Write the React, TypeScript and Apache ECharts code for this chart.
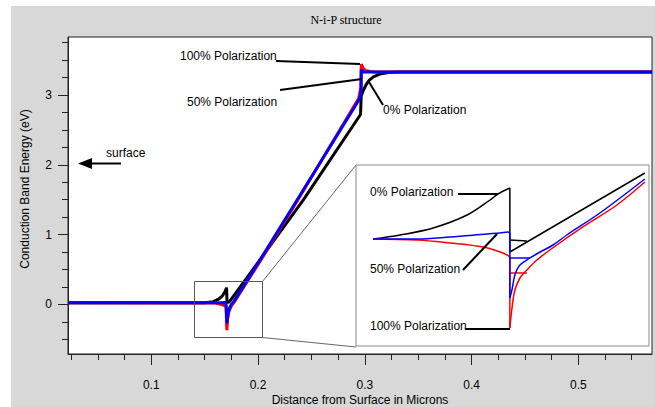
import React, { useEffect, useRef } from "react";
import * as echarts from "echarts";

// ---------- axis ticks ----------
const xMajorTicks = [0.1, 0.2, 0.3, 0.4, 0.5];
const xMinorTicks = [0.025, 0.05, 0.075, 0.125, 0.15, 0.175, 0.225, 0.25, 0.275, 0.325, 0.35, 0.375, 0.425, 0.45, 0.475, 0.525, 0.55];
const yMajorTicks = [0, 1, 2, 3];
const yMinorTicks = [-0.5, -0.25, 0.25, 0.5, 0.75, 1.25, 1.5, 1.75, 2.25, 2.5, 2.75, 3.25, 3.5, 3.75];
const xRange = [0.022, 0.569];
const yRange = [-0.71, 3.83];

// ---------- main curves: [distance (µm), conduction band energy (eV)] ----------
const pol0 = [
  [0.022, 0.024], [0.15, 0.024], [0.158, 0.04], [0.163, 0.075], [0.1665, 0.12], [0.169, 0.18],
  [0.1705, 0.24], [0.171, 0.03], [0.1731, 0.035], [0.2426, 1.5], [0.296, 2.72], [0.2966, 2.98],
  [0.2985, 3.06], [0.301, 3.14], [0.304, 3.21], [0.308, 3.26], [0.314, 3.3], [0.322, 3.32],
  [0.332, 3.33], [0.569, 3.33],
];
const pol50 = [
  [0.022, 0.024], [0.165, 0.024], [0.17, 0.026], [0.1706, 0.024], [0.1708, -0.27], [0.1716, -0.15],
  [0.173, -0.06], [0.175, 0.0], [0.1769, 0.033], [0.202, 0.64], [0.2367, 1.5], [0.2942, 2.92],
  [0.296, 3.0], [0.2966, 3.1], [0.2967, 3.36], [0.2985, 3.33], [0.569, 3.33],
];
const pol100 = [
  [0.022, 0.024], [0.16, 0.02], [0.166, 0.0], [0.17, -0.03], [0.1708, -0.37], [0.1714, -0.22],
  [0.1728, -0.1], [0.175, -0.02], [0.1775, 0.03], [0.202, 0.62], [0.2367, 1.48], [0.2942, 2.95],
  [0.2962, 3.1], [0.2967, 3.44], [0.2985, 3.38], [0.3005, 3.35], [0.305, 3.335], [0.31, 3.33],
  [0.569, 3.33],
];

// ---------- inset (magnified region) ----------
const insetXRange = [0.1403, 0.2041];
const insetYRange = [-0.484, 0.33];
// black: smooth rise to the peak, vertical drop, straight climb
const inset0 = [
  [0.144, -0.0028], [0.1499, 0.0152], [0.1571, 0.0467], [0.1645, 0.1051], [0.1695, 0.1726],
  [0.1712, 0.1996], [0.1738, 0.2266], [0.1738, -0.0613], [0.2032, 0.294],
];
const inset0Step = [[0.1738, -0.0073], [0.1775, -0.0118]];
const inset50 = [
  [0.144, -0.0028], [0.1536, -0.0028], [0.1608, 0.0062], [0.1688, 0.0197], [0.1717, 0.0242],
  [0.1734, 0.0287], [0.1738, 0.0242], [0.1738, -0.2681], [0.1743, -0.2277], [0.1749, -0.1647],
  [0.176, -0.1197], [0.1782, -0.0882], [0.1804, -0.0613], [0.1832, -0.0298], [0.1862, 0.0152],
  [0.1934, 0.1141], [0.2032, 0.267],
];
const inset50Step = [[0.1738, -0.0882], [0.1782, -0.0882]];
const inset100 = [
  [0.144, -0.0028], [0.1536, -0.0073], [0.1608, -0.0208], [0.168, -0.0388], [0.1717, -0.0613],
  [0.1732, -0.0747], [0.1738, -0.0837], [0.1738, -0.403], [0.1743, -0.3086], [0.1749, -0.2322],
  [0.176, -0.1782], [0.1775, -0.1422], [0.1797, -0.0972], [0.1825, -0.0523], [0.1897, 0.0512],
  [0.1971, 0.1501], [0.2032, 0.2535],
];
const inset100Step = [[0.1738, -0.1557], [0.1775, -0.1557]];

const SANS = "'Liberation Sans', Arial, sans-serif";
const SERIF = "'Liberation Serif', 'Times New Roman', serif";

function txt(text: string, x: number, y: number, opts: any = {}) {
  return {
    type: "text",
    x,
    y,
    z: 100,
    rotation: opts.rotation || 0,
    style: {
      text,
      fill: "#000",
      font: opts.font || `12px ${SANS}`,
      align: opts.align || "left",
      textAlign: opts.align || "left",
      verticalAlign: "middle",
      textVerticalAlign: "middle",
    },
  };
}
function seg(x1: number, y1: number, x2: number, y2: number, stroke = "#000", lineWidth = 2) {
  return { type: "line", z: 100, shape: { x1, y1, x2, y2 }, style: { stroke, lineWidth } };
}

export default function App() {
  const ref = useRef<HTMLDivElement>(null);
  useEffect(() => {
    if (!ref.current) return;
    const chart = echarts.init(ref.current, undefined, { renderer: "svg" });
    const line = (data: number[][], color: string, width: number, ax: number, name: string, smooth: any = false) => ({
      type: "line",
      name,
      data,
      xAxisIndex: ax,
      yAxisIndex: ax,
      showSymbol: false,
      symbol: "none",
      smooth,
      lineStyle: { color, width },
      itemStyle: { color },
      silent: true,
      z: ax === 2 ? 10 : 2,
    });
    const S = 0.35;
    chart.setOption({
      animation: false,
      backgroundColor: "#d8d8d8",
      grid: [
        { left: 68, top: 37, width: 584, height: 317, show: true, backgroundColor: "#fff", borderColor: "#222", borderWidth: 1 },
        { left: 356, top: 165, width: 293, height: 181, show: true, backgroundColor: "#fff", borderColor: "#8a8a8a", borderWidth: 1, z: 5 },
      ],
      xAxis: [
        {
          gridIndex: 0, type: "value", position: "bottom", min: xRange[0], max: xRange[1],
          axisLine: { show: true, onZero: false, lineStyle: { color: "#222" } },
          axisTick: { show: true, customValues: xMajorTicks, length: 11, lineStyle: { color: "#222" } },
          axisLabel: { show: true, customValues: xMajorTicks, margin: 25, fontSize: 12, color: "#000", fontFamily: SANS, formatter: (v: number) => v.toFixed(1) },
          splitLine: { show: false },
        },
        {
          gridIndex: 0, type: "value", position: "bottom", min: xRange[0], max: xRange[1],
          axisLine: { show: false, onZero: false },
          axisTick: { show: true, customValues: xMinorTicks, length: 6, lineStyle: { color: "#222" } },
          axisLabel: { show: false },
          splitLine: { show: false },
        },
        { gridIndex: 1, type: "value", min: insetXRange[0], max: insetXRange[1], show: false },
      ],
      yAxis: [
        {
          gridIndex: 0, type: "value", position: "left", min: yRange[0], max: yRange[1],
          axisLine: { show: true, onZero: false, lineStyle: { color: "#222" } },
          axisTick: { show: true, customValues: yMajorTicks, length: 10, lineStyle: { color: "#222" } },
          axisLabel: { show: true, customValues: yMajorTicks, margin: 16, fontSize: 12, color: "#000", fontFamily: SANS },
          splitLine: { show: false },
        },
        {
          gridIndex: 0, type: "value", position: "left", min: yRange[0], max: yRange[1],
          axisLine: { show: false, onZero: false },
          axisTick: { show: true, customValues: yMinorTicks, length: 6, lineStyle: { color: "#222" } },
          axisLabel: { show: false },
          splitLine: { show: false },
        },
        { gridIndex: 1, type: "value", min: insetYRange[0], max: insetYRange[1], show: false },
      ],
      series: [
        line(pol0, "#000000", 3, 0, "0% Polarization"),
        line(pol100, "#ff0000", 3, 0, "100% Polarization"),
        line(pol50, "#0000ff", 3, 0, "50% Polarization"),
        // inset: black
        line(inset0.slice(0, 7), "#000000", 1.5, 2, "inset 0% rise", S),
        line(inset0.slice(6), "#000000", 1.5, 2, "inset 0% drop"),
        line(inset0Step, "#000000", 1.5, 2, "inset 0% step"),
        // inset: red
        line(inset100.slice(0, 7), "#ff0000", 1.5, 2, "inset 100% approach", S),
        line(inset100.slice(6, 8), "#ff0000", 1.5, 2, "inset 100% drop"),
        line(inset100.slice(7), "#ff0000", 1.5, 2, "inset 100% recovery", S),
        line(inset100Step, "#ff0000", 1.5, 2, "inset 100% step"),
        // inset: blue
        line(inset50.slice(0, 7), "#0000ff", 1.5, 2, "inset 50% approach", S),
        line(inset50.slice(6, 8), "#0000ff", 1.5, 2, "inset 50% drop"),
        line(inset50.slice(7), "#0000ff", 1.5, 2, "inset 50% recovery", S),
        line(inset50Step, "#0000ff", 1.5, 2, "inset 50% step"),
      ],
      graphic: [
        { type: "rect", z: 100, shape: { x: 0, y: 0, width: 655, height: 6 }, style: { fill: "#fff" } },
        { type: "rect", z: 100, shape: { x: 0, y: 0, width: 11, height: 407 }, style: { fill: "#fff" } },
        txt("N-i-P structure", 346, 20, { font: `12px ${SERIF}`, align: "center" }),
        txt("Conduction Band Energy (eV)", 25, 189, { rotation: Math.PI / 2, align: "center" }),
        txt("Distance from Surface in Microns", 360, 400, { align: "center" }),
        // zoom box and its leaders
        { type: "rect", z: 90, shape: { x: 194.5, y: 281.5, width: 68, height: 56 }, style: { fill: "none", stroke: "#555", lineWidth: 1 } },
        seg(262.5, 281.5, 356, 165, "#666", 1),
        seg(262.5, 337.5, 356, 347, "#666", 1),
        // main labels
        txt("100% Polarization", 180, 56),
        seg(276, 61, 360, 64),
        txt("50% Polarization", 187, 102),
        seg(280, 90, 362, 79),
        txt("0% Polarization", 383, 110),
        seg(369, 82, 383, 105),
        // surface arrow
        txt("surface", 106, 153),
        seg(88, 163.5, 121, 163.5, "#000", 2),
        { type: "polygon", z: 100, shape: { points: [[78, 163.5], [92, 158], [92, 169]] }, style: { fill: "#000" } },
        // inset labels
        txt("0% Polarization", 370, 192),
        seg(458, 194, 498, 194),
        txt("50% Polarization", 370, 269),
        seg(463, 270, 497, 234),
        txt("100% Polarization", 370, 326),
        seg(465, 329, 510, 329),
      ],
    });
    return () => chart.dispose();
  }, []);
  return <div ref={ref} style={{ position: "absolute", left: 0, top: 0, width: 655, height: 407 }} />;
}
